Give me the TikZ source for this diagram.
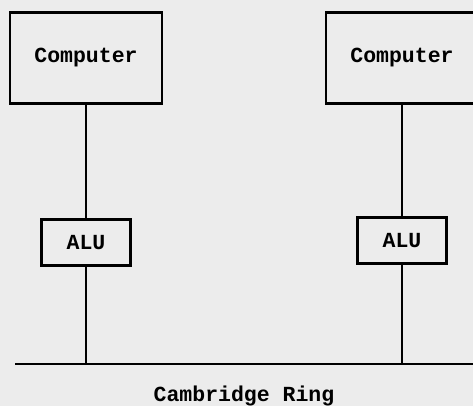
\documentclass[tikz,border=0pt]{standalone}
\usepackage{fontspec}
\setmonofont{Liberation Mono}
\usetikzlibrary{positioning}
\definecolor{paper}{RGB}{236,236,236}

\begin{document}
\begin{tikzpicture}[
    x=1pt, y=-1pt,
    line width=2.8pt,
    font=\ttfamily\bfseries\fontsize{21.5}{25}\selectfont,
    comp/.style={draw, minimum width=152pt, minimum height=91pt, inner sep=0pt},
    alu/.style={draw, minimum width=89pt, minimum height=46pt, inner sep=0pt}
  ]
  \fill[paper] (0,0) rectangle (473,406);
  \clip (0,0) rectangle (473,406);

  \node[comp] (compL) at (86,58) {Computer};
  \node[comp] (compR) at (402,58) {Computer};
  \node[alu, below=113pt of compL] (aluL) {ALU};
  \node[alu, below=111pt of compR] (aluR) {ALU};
  \draw (compL) -- (aluL);
  \draw (compR) -- (aluR);

  % the ring
  \coordinate (busL) at (15,364);
  \coordinate (busR) at (480,364);
  \draw (busL) -- (busR);
  \draw (aluL) -- (aluL |- busL);
  \draw (aluR) -- (aluR |- busR);
  \node (ring) at (244,396) {Cambridge Ring};
\end{tikzpicture}
\end{document}
